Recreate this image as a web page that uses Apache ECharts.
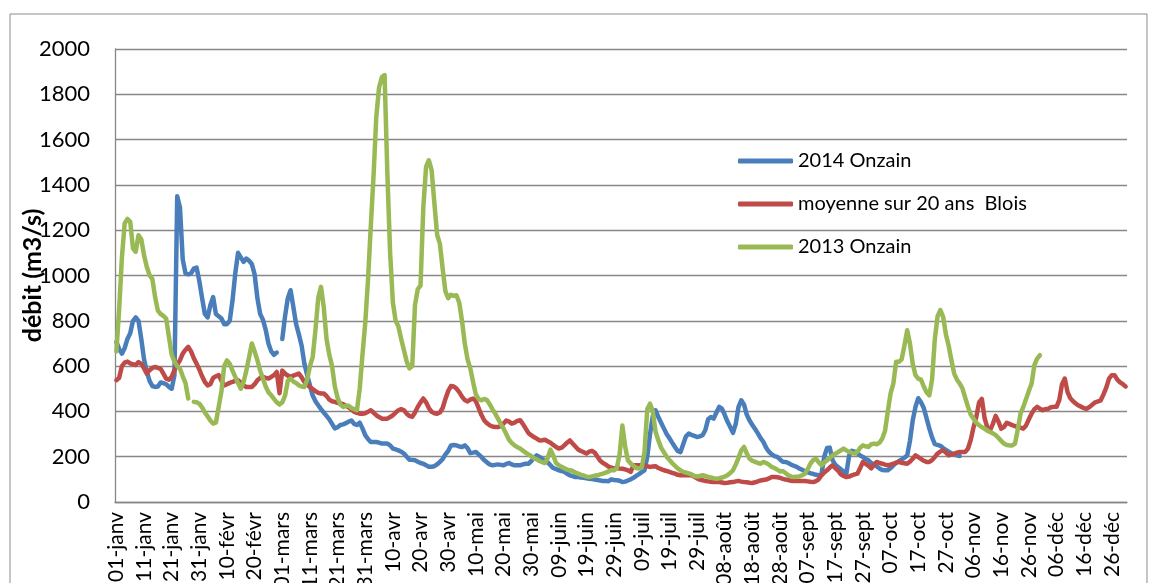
<!DOCTYPE html>
<html>
<head>
<meta charset="utf-8">
<script src="https://cdn.jsdelivr.net/npm/echarts@6/dist/echarts.min.js"></script>
<style>
  html, body { margin: 0; padding: 0; background: #fff; }
  #chart { width: 1161px; height: 583px; }
</style>
</head>
<body>
<div id="chart"></div>
<script>
// mois (annee bissextile : 366 jours)
const months = ['janv', 'févr', 'mars', 'avr', 'mai', 'juin', 'juil', 'août', 'sept', 'oct', 'nov', 'déc'];
const monthDays = [31, 29, 31, 30, 31, 30, 31, 31, 30, 31, 30, 31];

const yTicks = [0, 200, 400, 600, 800, 1000, 1200, 1400, 1600, 1800, 2000];

const onzain2014 = [
    707, 675, 655, 680, 720, 745, 800, 815, 800, 720,
    630, 575, 535, 512, 508, 510, 528, 525, 520, 508,
    500, 560, 1350, 1300, 1070, 1010, 1005, 1010, 1030, 1035,
    975, 900, 830, 815, 870, 905, 830, 820, 810, 785,
    785, 800, 890, 1010, 1100, 1080, 1060, 1075, 1065, 1050,
    1005, 900, 830, 805, 760, 700, 665, 650, 660, null,
    720, 820, 900, 935, 862, 785, 740, 690, 610, 560,
    515, 470, 445, 427, 410, 395, 380, 365, 345, 325,
    330, 340, 343, 348, 355, 360, 345, 340, 350, 325,
    295, 278, 265, 265, 265, 262, 258, 258, 258, 250,
    236, 232, 228, 222, 214, 200, 187, 186, 184, 178,
    172, 169, 162, 156, 156, 158, 166, 177, 190, 210,
    225, 250, 252, 250, 245, 243, 250, 238, 216, 218,
    221, 210, 199, 185, 175, 166, 162, 164, 166, 164,
    162, 168, 172, 166, 162, 162, 162, 166, 169, 169,
    180, 195, 206, 199, 190, 184, 175, 162, 150, 145,
    140, 137, 133, 125, 118, 114, 110, 110, 108, 107,
    105, 103, 101, 99, 97, 95, 93, 93, 92, 100,
    97, 96, 94, 88, 90, 95, 100, 107, 115, 123,
    132, 140, 200, 300, 380, 405, 375, 350, 325, 300,
    282, 262, 243, 225, 220, 255, 290, 302, 296, 292,
    287, 290, 295, 318, 365, 375, 368, 395, 420, 412,
    385, 355, 331, 305, 345, 420, 449, 430, 385, 360,
    340, 322, 303, 282, 265, 240, 222, 210, 203, 199,
    188, 178, 177, 172, 165, 160, 155, 148, 142, 136,
    131, 127, 124, 120, 118, 122, 200, 238, 240, 185,
    165, 155, 145, 135, 125, 205, 226, 222, 215, 205,
    199, 190, 184, 172, 165, 157, 148, 141, 140, 140,
    150, 162, 172, 180, 188, 195, 205, 270, 360, 420,
    458, 440, 415, 370, 325, 285, 256, 252, 248, 238,
    230, 222, 215, 210, 206, 203
];

const moyenneBlois = [
    538, 548, 600, 615, 620, 612, 608, 605, 618, 610,
    590, 567, 582, 592, 596, 592, 588, 567, 545, 540,
    552, 582, 605, 626, 655, 672, 685, 665, 635, 611,
    585, 555, 530, 515, 520, 548, 555, 560, 535, 515,
    520, 526, 530, 535, 538, 528, 515, 508, 508, 508,
    520, 538, 548, 552, 548, 545, 552, 560, 574, 480,
    580, 567, 558, 552, 558, 562, 567, 550, 530, 518,
    508, 498, 490, 482, 479, 479, 468, 452, 445, 442,
    438, 435, 432, 425, 418, 408, 398, 394, 390, 390,
    392, 398, 405, 395, 383, 375, 368, 368, 368, 375,
    383, 395, 405, 410, 405, 390, 380, 376, 395, 420,
    440, 457, 440, 415, 398, 392, 390, 395, 415, 455,
    490, 512, 510, 501, 485, 465, 450, 444, 452, 457,
    445, 415, 385, 361, 348, 339, 333, 331, 331, 335,
    346, 360, 355, 346, 350, 358, 361, 345, 325, 305,
    295, 287, 280, 272, 273, 275, 268, 262, 252, 243,
    236, 240, 250, 262, 272, 258, 245, 232, 225, 220,
    214, 222, 226, 218, 200, 182, 172, 165, 156, 152,
    148, 150, 148, 147, 144, 140, 133, 162, 162, 162,
    162, 162, 158, 155, 157, 158, 150, 145, 140, 137,
    133, 129, 125, 120, 118, 118, 118, 118, 118, 112,
    104, 99, 96, 93, 91, 89, 88, 88, 88, 86,
    84, 85, 87, 88, 91, 93, 90, 88, 87, 85,
    84, 87, 91, 95, 97, 99, 104, 110, 110, 109,
    107, 102, 99, 97, 94, 93, 93, 93, 93, 93,
    91, 89, 88, 92, 100, 118, 130, 140, 152, 162,
    150, 138, 122, 115, 110, 112, 118, 122, 125, 150,
    177, 168, 160, 148, 165, 177, 172, 169, 165, 162,
    165, 169, 174, 177, 173, 171, 169, 178, 191, 206,
    198, 190, 182, 177, 177, 185, 199, 214, 223, 228,
    218, 206, 210, 214, 218, 221, 221, 221, 236, 275,
    330, 376, 440, 455, 370, 328, 317, 345, 380, 355,
    324, 331, 350, 345, 339, 335, 331, 328, 324, 338,
    365, 390, 410, 420, 412, 405, 410, 412, 418, 420,
    420, 450, 520, 545, 485, 458, 445, 434, 426, 420,
    414, 412, 420, 430, 440, 444, 449, 475, 505, 545,
    560, 560, 540, 528, 520, 510
];

const onzain2013 = [
    665, 850, 1080, 1230, 1250, 1237, 1120, 1105, 1178, 1160,
    1090, 1038, 1001, 985, 905, 845, 830, 822, 810, 730,
    650, 620, 600, 589, 555, 525, 457, null, 442, 440,
    434, 418, 395, 378, 360, 346, 350, 420, 490, 600,
    625, 610, 580, 552, 525, 500, 530, 580, 640, 700,
    665, 626, 580, 545, 510, 485, 471, 455, 440, 430,
    440, 470, 535, 545, 532, 525, 515, 510, 508, 540,
    600, 640, 760, 900, 950, 860, 720, 650, 600, 510,
    460, 430, 420, 425, 425, 415, 410, 405, 500, 650,
    790, 980, 1215, 1440, 1700, 1830, 1875, 1885, 1450, 1100,
    880, 800, 775, 720, 670, 620, 590, 600, 870, 940,
    955, 1300, 1480, 1509, 1465, 1320, 1180, 1140, 1030, 930,
    900, 915, 910, 913, 880, 800, 700, 630, 590, 530,
    475, 455, 449, 455, 450, 432, 410, 390, 368, 345,
    325, 300, 275, 260, 250, 242, 236, 227, 218, 210,
    203, 193, 188, 181, 176, 172, 195, 231, 205, 172,
    162, 155, 149, 143, 140, 137, 130, 125, 120, 117,
    112, 110, 113, 116, 118, 122, 125, 130, 135, 140,
    140, 150, 210, 338, 245, 184, 170, 160, 150, 148,
    152, 220, 410, 434, 400, 310, 272, 240, 220, 200,
    186, 172, 160, 148, 140, 133, 130, 126, 122, 115,
    113, 115, 118, 115, 110, 108, 105, 103, 105, 108,
    112, 118, 128, 140, 165, 195, 228, 243, 214, 191,
    182, 177, 172, 169, 177, 172, 165, 155, 150, 143,
    135, 137, 128, 118, 112, 110, 112, 113, 118, 125,
    145, 169, 185, 191, 175, 162, 175, 184, 195, 206,
    213, 220, 228, 236, 228, 221, 217, 214, 222, 240,
    250, 246, 243, 255, 258, 255, 262, 280, 315, 400,
    480, 523, 619, 619, 630, 690, 758, 700, 610, 560,
    545, 540, 510, 485, 471, 540, 720, 820, 847, 817,
    740, 690, 626, 567, 540, 523, 501, 460, 420, 385,
    368, 350, 339, 330, 324, 315, 309, 303, 295, 283,
    270, 258, 252, 250, 250, 258, 320, 390, 420, 455,
    490, 523, 604, 633, 648
];

// libelles jour-mois
const days = [];
months.forEach((m, i) => {
    for (let d = 1; d <= monthDays[i]; d++) {
        days.push((d < 10 ? '0' + d : '' + d) + '-' + m);
    }
});

const font = 'Lato, "Open Sans", sans-serif';
const gridColor = '#878787';

const chart = echarts.init(document.getElementById('chart'), null, { renderer: 'canvas' });

const lineSeries = (name, data, color) => ({
    name: name,
    type: 'line',
    data: data,
    symbol: 'none',
    smooth: false,
    connectNulls: false,
    lineStyle: { color: color, width: 4.5, join: 'round', cap: 'round' },
    itemStyle: { color: color },
    emphasis: { disabled: true },
    animation: false
});

const option = {
    backgroundColor: '#fff',
    animation: false,
    graphic: [
        {
            type: 'rect',
            shape: { x: 10, y: 14, width: 1137, height: 600 },
            style: { fill: 'none', stroke: '#8c8c8c', lineWidth: 1 },
            silent: true,
            z: -1
        }
    ],
    grid: {
        left: 115, right: 34, top: 49, bottom: 81,
        containLabel: false,
        outerBoundsMode: 'none'
    },
    legend: {
        orient: 'vertical',
        left: 733,
        top: 146,
        padding: 5,
        itemWidth: 55,
        itemHeight: 5,
        itemGap: 23,
        icon: 'roundRect',
        textStyle: { fontFamily: font, fontSize: 20, color: '#000', lineHeight: 20 },
        data: ['2014 Onzain', 'moyenne sur 20 ans  Blois', '2013 Onzain']
    },
    xAxis: {
        type: 'category',
        data: days,
        boundaryGap: true,
        axisLine: { show: true, lineStyle: { color: gridColor, width: 1.3 } },
        axisTick: { show: false },
        axisLabel: {
            interval: 9,
            rotate: 90,
            margin: 10,
            fontFamily: font,
            fontSize: 21,
            color: '#000'
        }
    },
    yAxis: {
        type: 'value',
        min: yTicks[0],
        max: yTicks[yTicks.length - 1],
        interval: 200,
        name: 'débit (m3/s)',
        nameLocation: 'middle',
        nameRotate: 90,
        nameGap: 70,
        nameMoveOverlap: false,
        nameTextStyle: { fontFamily: font, fontSize: 25, fontWeight: 'bold', color: '#000' },
        axisLine: { show: true, lineStyle: { color: gridColor, width: 1.3 } },
        axisTick: { show: false },
        axisLabel: {
            margin: 25,
            fontFamily: font,
            fontSize: 22,
            color: '#000',
            formatter: v => String(v)
        },
        splitLine: { show: true, lineStyle: { color: gridColor, width: 1.3 } }
    },
    series: [
        lineSeries('2014 Onzain', onzain2014, '#4A7EBB'),
        lineSeries('moyenne sur 20 ans  Blois', moyenneBlois, '#BE4B48'),
        lineSeries('2013 Onzain', onzain2013, '#98B954')
    ]
};

chart.setOption(option);
</script>
</body>
</html>
